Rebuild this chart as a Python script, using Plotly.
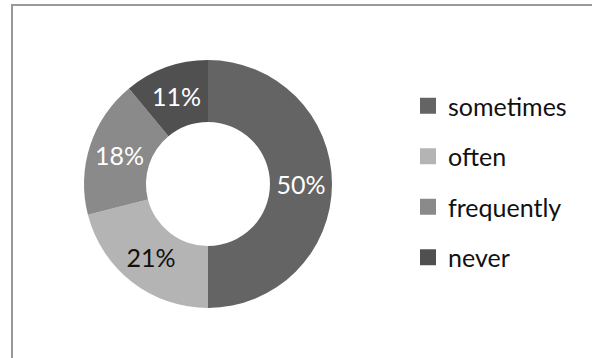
import plotly.graph_objects as go

categories = ["sometimes", "often", "frequently", "never"]
values = [50, 21, 18, 11]
colors = ["#646464", "#b4b4b4", "#8a8a8a", "#505050"]
text_colors = ["#ffffff", "#111111", "#ffffff", "#ffffff"]

W, H = 592, 358
fig = go.Figure()
fig.add_trace(go.Pie(
    labels=categories, values=values, hole=0.5, sort=False, direction="clockwise",
    rotation=0, marker=dict(colors=colors, line=dict(width=0)),
    textinfo="percent", textposition="inside", insidetextorientation="horizontal",
    textfont=dict(family="Lato", size=25, color=text_colors),
    showlegend=False,
    domain=dict(x=[84 / W, 332 / W], y=[1 - 308 / H, 1 - 60 / H]),
))
for c, col in zip(categories, colors):
    fig.add_trace(go.Scatter(
        x=[None], y=[None], mode="markers", name=c, legendgroup=c,
        marker=dict(symbol="square", size=16, color=col),
    ))

axis_common = dict(showgrid=False, zeroline=False, showticklabels=False, ticks="",
                   showline=True, linecolor="#999999", linewidth=2, fixedrange=True)
fig.update_layout(
    width=W, height=H, margin=dict(l=0, r=0, t=0, b=0),
    paper_bgcolor="white", plot_bgcolor="rgba(0,0,0,0)",
    xaxis=dict(domain=[13 / W, 1], side="top", **axis_common),
    yaxis=dict(domain=[0, 1 - 6 / H], side="left", **axis_common),
    legend=dict(x=408 / W, y=1 - 83 / H, xanchor="left", yanchor="top",
                font=dict(family="Lato", size=25, color="#111111"),
                tracegroupgap=15, itemwidth=30, bgcolor="rgba(0,0,0,0)"),
)
fig.write_html("out.html", config=dict(displayModeBar=False),
               post_script=("document.body.style.margin='0';"
                            "document.body.style.overflow='hidden';"
                            "document.documentElement.style.overflow='hidden';"))
